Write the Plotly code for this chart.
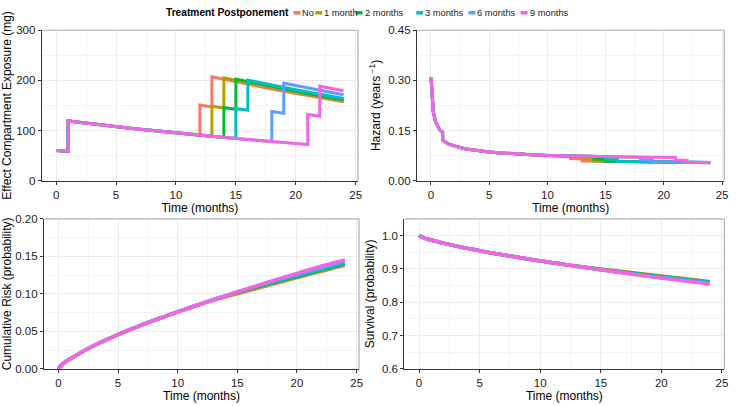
import plotly.graph_objects as go

# ---------------- data ----------------
CATEGORIES = ["No", "1 month", "2 months", "3 months", "6 months", "9 months"]
DOSE_MONTH = [12, 13, 14, 15, 18, 21]
COLORS = ["#F8766D", "#B79F00", "#00BA38", "#00BFC4", "#619CFF", "#F564E3"]

# Effect compartment exposure (mg): shared path before the postponed dose
expo_base_t = [0, 1, 1, 2, 3, 4, 5, 6, 7, 8, 9, 10, 11, 12, 13, 14, 15, 16, 17, 18, 19, 20, 21]
expo_base_v = [60, 59, 119, 116, 113, 110.5, 108, 105, 102.5, 100, 97.5, 95, 93, 91, 88.5, 86, 84,
               82, 80, 78, 76, 74, 72]
expo_no_t = [12, 13, 13, 14, 15, 16, 17, 18, 19, 20, 21, 22, 23, 24]
expo_no_v = [151, 147, 207, 202, 197, 192, 187.5, 183, 178.5, 174, 169.5, 165.5, 161.5, 157.5]
expo_1m_t = [13, 14, 14, 15, 16, 17, 18, 19, 20, 21, 22, 23, 24]
expo_1m_v = [148.5, 145, 205, 200, 195, 190, 185.5, 181, 176.5, 172, 167.5, 163.5, 159.5]
expo_2m_t = [14, 15, 15, 16, 17, 18, 19, 20, 21, 22, 23, 24]
expo_2m_v = [146, 142.5, 202.5, 197.5, 192.5, 187.5, 183, 178.5, 174, 169.5, 165.5, 161.5]
expo_3m_t = [15, 16, 16, 17, 18, 19, 20, 21, 22, 23, 24]
expo_3m_v = [144, 140.5, 200.5, 195.5, 190.5, 186, 181.5, 177, 172.5, 168, 164]
expo_6m_t = [18, 19, 19, 20, 21, 22, 23, 24]
expo_6m_v = [138, 134.5, 194.5, 189.5, 185, 180.5, 176, 171.5]
expo_9m_t = [21, 22, 22, 23, 24]
expo_9m_v = [132, 128.5, 188.5, 184, 179.5]

# Hazard (years^-1)
haz_base_t = [0, 0.12, 0.2, 0.4, 0.75, 1, 1, 1.5, 2, 3, 4, 5, 6, 7, 8, 9, 10, 11, 12, 13, 14, 15,
              16, 17, 18, 19, 20, 21]
haz_base_v = [0.31, 0.25, 0.205, 0.175, 0.152, 0.145, 0.121, 0.11, 0.104, 0.095, 0.09, 0.086, 0.083,
              0.0805, 0.0785, 0.077, 0.0755, 0.0745, 0.0735, 0.073, 0.0725, 0.072, 0.0715, 0.071,
              0.0705, 0.070, 0.0697, 0.0695]
haz_no_t = [12, 13, 13, 14, 15, 16, 17, 18, 19, 20, 21, 22, 23, 24]
haz_no_v = [0.066, 0.065, 0.059, 0.0582, 0.0575, 0.057, 0.0565, 0.056, 0.0556, 0.0552, 0.0548,
            0.0545, 0.0542, 0.054]
haz_1m_t = [13, 14, 14, 15, 16, 17, 18, 19, 20, 21, 22, 23, 24]
haz_1m_v = [0.0655, 0.0645, 0.0585, 0.0578, 0.0572, 0.0566, 0.0561, 0.0557, 0.0553, 0.0549, 0.0546,
            0.0543, 0.054]
haz_2m_t = [14, 15, 15, 16, 17, 18, 19, 20, 21, 22, 23, 24]
haz_2m_v = [0.065, 0.064, 0.058, 0.0574, 0.0568, 0.0563, 0.0558, 0.0554, 0.055, 0.0547, 0.0544,
            0.0541]
haz_3m_t = [15, 16, 16, 17, 18, 19, 20, 21, 22, 23, 24]
haz_3m_v = [0.0645, 0.0635, 0.0575, 0.057, 0.0565, 0.056, 0.0556, 0.0552, 0.0549, 0.0546, 0.0543]
haz_6m_t = [18, 19, 19, 20, 21, 22, 23, 24]
haz_6m_v = [0.063, 0.062, 0.0565, 0.056, 0.0556, 0.0552, 0.0549, 0.0546]
haz_9m_t = [21, 22, 22, 23, 24]
haz_9m_v = [0.0615, 0.0605, 0.0555, 0.055, 0.0546]

# Cumulative risk (probability)
risk_base_t = [0, 0.25, 0.5, 1, 2, 3, 4, 5, 6, 7, 8, 9, 10, 11, 12, 13, 14, 15, 16, 17, 18, 19, 20, 21]
risk_base_v = [0, 0.005, 0.0085, 0.0135, 0.023, 0.0312, 0.0387, 0.0457, 0.0523, 0.0586, 0.0646,
               0.0704, 0.076, 0.0815, 0.0869, 0.0922, 0.0974, 0.1025, 0.1076, 0.1126, 0.1176,
               0.1225, 0.1274, 0.1322]
risk_no_v = [0.0915, 0.0958, 0.1001, 0.1044, 0.1087, 0.113, 0.1172, 0.1214, 0.1256, 0.1298, 0.134, 0.1382]
risk_1m_v = [0.0968, 0.1011, 0.1054, 0.1097, 0.114, 0.1182, 0.1224, 0.1266, 0.1308, 0.135, 0.1392]
risk_2m_v = [0.102, 0.1063, 0.1106, 0.1149, 0.1191, 0.1233, 0.1275, 0.1317, 0.1359, 0.1401]
risk_3m_v = [0.1071, 0.1114, 0.1157, 0.1199, 0.1241, 0.1283, 0.1325, 0.1367, 0.1409]
risk_6m_v = [0.1222, 0.1265, 0.1307, 0.1349, 0.1391, 0.1433]
risk_9m_v = [0.1368, 0.1411, 0.1453]

# Survival (probability)
surv_base_v = [1, 0.995, 0.9915, 0.9865, 0.977, 0.9688, 0.9613, 0.9543, 0.9477, 0.9414, 0.9354,
               0.9296, 0.924, 0.9185, 0.9131, 0.9078, 0.9026, 0.8975, 0.8924, 0.8874, 0.8824,
               0.8775, 0.8726, 0.8678]
surv_no_v = [0.9085, 0.9042, 0.8999, 0.8956, 0.8913, 0.887, 0.8828, 0.8786, 0.8744, 0.8702, 0.866, 0.8618]
surv_1m_v = [0.9032, 0.8989, 0.8946, 0.8903, 0.886, 0.8818, 0.8776, 0.8734, 0.8692, 0.865, 0.8608]
surv_2m_v = [0.898, 0.8937, 0.8894, 0.8851, 0.8809, 0.8767, 0.8725, 0.8683, 0.8641, 0.8599]
surv_3m_v = [0.8929, 0.8886, 0.8843, 0.8801, 0.8759, 0.8717, 0.8675, 0.8633, 0.8591]
surv_6m_v = [0.8778, 0.8735, 0.8693, 0.8651, 0.8609, 0.8567]
surv_9m_v = [0.8632, 0.8589, 0.8547]

X_TICKS = [0, 5, 10, 15, 20, 25]
Y_TICKS_EXPO = [0, 100, 200, 300]
Y_TICKS_HAZ = [0.00, 0.15, 0.30, 0.45]
Y_TICKS_RISK = [0.00, 0.05, 0.10, 0.15, 0.20]
Y_TICKS_SURV = [0.6, 0.7, 0.8, 0.9, 1.0]

expo_tails = [(expo_no_t, expo_no_v), (expo_1m_t, expo_1m_v), (expo_2m_t, expo_2m_v),
              (expo_3m_t, expo_3m_v), (expo_6m_t, expo_6m_v), (expo_9m_t, expo_9m_v)]
haz_tails = [(haz_no_t, haz_no_v), (haz_1m_t, haz_1m_v), (haz_2m_t, haz_2m_v),
             (haz_3m_t, haz_3m_v), (haz_6m_t, haz_6m_v), (haz_9m_t, haz_9m_v)]
risk_tails = [risk_no_v, risk_1m_v, risk_2m_v, risk_3m_v, risk_6m_v, risk_9m_v]
surv_tails = [surv_no_v, surv_1m_v, surv_2m_v, surv_3m_v, surv_6m_v, surv_9m_v]


def join(base_t, base_v, tail_t, tail_v, d):
    pre = [(t, v) for t, v in zip(base_t, base_v) if t <= d]
    xs = [p[0] for p in pre] + list(tail_t)
    ys = [p[1] for p in pre] + list(tail_v)
    return xs, ys


FONT = "Liberation Sans, Arial, sans-serif"
fig = go.Figure()

for i, cat in enumerate(CATEGORIES):
    d = DOSE_MONTH[i]
    line = dict(color=COLORS[i], width=3)
    x, y = join(expo_base_t, expo_base_v, expo_tails[i][0], expo_tails[i][1], d)
    fig.add_trace(go.Scatter(x=x, y=y, mode="lines", line=line, name=cat, showlegend=False,
                             xaxis="x", yaxis="y"))
    x, y = join(haz_base_t, haz_base_v, haz_tails[i][0], haz_tails[i][1], d)
    fig.add_trace(go.Scatter(x=x, y=y, mode="lines", line=line, name=cat, showlegend=False,
                             xaxis="x2", yaxis="y2"))
    tail_t = list(range(d + 1, 25))
    x, y = join(risk_base_t, risk_base_v, tail_t, risk_tails[i], d)
    fig.add_trace(go.Scatter(x=x, y=y, mode="lines", line=dict(color=COLORS[i], width=3.5,
                             shape="spline", smoothing=0.6), name=cat, showlegend=False,
                             xaxis="x3", yaxis="y3"))
    x, y = join(risk_base_t, surv_base_v, tail_t, surv_tails[i], d)
    fig.add_trace(go.Scatter(x=x, y=y, mode="lines", line=dict(color=COLORS[i], width=3.5,
                             shape="spline", smoothing=0.6), name=cat, showlegend=False,
                             xaxis="x4", yaxis="y4"))

W, H = 738, 406


def px_x(p):
    return p / W


def px_y(p):
    return 1 - p / H


panels = {
    "1": dict(x=[px_x(42), px_x(360)], y=[px_y(180), px_y(25)]),
    "2": dict(x=[px_x(419.3), px_x(728.3)], y=[px_y(180), px_y(25)]),
    "3": dict(x=[px_x(44.3), px_x(361)], y=[px_y(374), px_y(219.3)]),
    "4": dict(x=[px_x(406.7), px_x(728.3)], y=[px_y(374), px_y(219.3)]),
}
ycfg = {
    "1": dict(range=[0, 300], tickvals=Y_TICKS_EXPO, ticktext=[str(v) for v in Y_TICKS_EXPO],
              title="Effect Compartment Exposure (mg)", minor=50),
    "2": dict(range=[0, 0.45], tickvals=Y_TICKS_HAZ, ticktext=[f"{v:.2f}" for v in Y_TICKS_HAZ],
              title="Hazard (years<sup> −1</sup>)", minor=0.075),
    "3": dict(range=[0, 0.2], tickvals=Y_TICKS_RISK, ticktext=[f"{v:.2f}" for v in Y_TICKS_RISK],
              title="Cumulative Risk (probability)", minor=0.025),
    "4": dict(range=[0.6, 1.05], tickvals=Y_TICKS_SURV, ticktext=[f"{v:.1f}" for v in Y_TICKS_SURV],
              title="Survival (probability)", minor=0.05),
}

tickfont = dict(family=FONT, size=11.5, color="#1A1A1A")
titlefont = dict(family=FONT, size=12, color="#000000")
layout = dict(width=W, height=H, margin=dict(l=0, r=0, t=0, b=0),
              paper_bgcolor="white", plot_bgcolor="white", showlegend=False,
              font=dict(family=FONT))
shapes = []
for k, p in panels.items():
    xa = "xaxis" if k == "1" else f"xaxis{k}"
    ya = "yaxis" if k == "1" else f"yaxis{k}"
    anchor_x = "y" if k == "1" else f"y{k}"
    anchor_y = "x" if k == "1" else f"x{k}"
    layout[xa] = dict(domain=p["x"], anchor=anchor_x, range=[-1.2, 25.2], tickvals=X_TICKS,
                      ticks="outside", ticklen=3, tickcolor="#333333", tickwidth=1,
                      showline=True, linecolor="#333333", linewidth=1.3, zeroline=False,
                      showgrid=True, gridcolor="#EBEBEB", gridwidth=1,
                      minor=dict(dtick=2.5, tick0=0, showgrid=True, gridcolor="#F4F4F4", gridwidth=1),
                      tickfont=tickfont, title=dict(text="Time (months)", font=titlefont, standoff=1))
    c = ycfg[k]
    layout[ya] = dict(domain=p["y"], anchor=anchor_y, range=c["range"], tickvals=c["tickvals"],
                      ticktext=c["ticktext"], ticks="outside", ticklen=3, tickcolor="#333333",
                      tickwidth=1, showline=True, linecolor="#333333", linewidth=1.3,
                      zeroline=False, showgrid=True, gridcolor="#EBEBEB", gridwidth=1,
                      minor=dict(dtick=c["minor"], tick0=0, showgrid=True, gridcolor="#F4F4F4",
                                 gridwidth=1),
                      tickfont=tickfont, title=dict(text=c["title"], font=titlefont, standoff=4))
    # top and right border of panel
    shapes.append(dict(type="line", xref="paper", yref="paper", x0=p["x"][0], x1=p["x"][1],
                       y0=p["y"][1], y1=p["y"][1], line=dict(color="#B0B0B0", width=1.2)))
    shapes.append(dict(type="line", xref="paper", yref="paper", x0=p["x"][1], x1=p["x"][1],
                       y0=p["y"][0], y1=p["y"][1], line=dict(color="#B0B0B0", width=1.2)))

# legend drawn as annotations + swatches
annotations = [dict(text="<b>Treatment Postponement</b>", x=px_x(165.5), y=px_y(7), xref="paper",
                    yref="paper", xanchor="left", yanchor="middle", showarrow=False, borderpad=0,
                    font=dict(family=FONT, size=10.2, color="#000000"))]
text_left = [305, 327, 367.5, 428.5, 481, 533.5]
for i, cat in enumerate(CATEGORIES):
    tx = text_left[i]
    shapes.append(dict(type="line", xref="paper", yref="paper", x0=px_x(tx - 10), x1=px_x(tx - 3),
                       y0=px_y(7), y1=px_y(7), line=dict(color=COLORS[i], width=3.5)))
    annotations.append(dict(text=cat, x=px_x(tx - 2), y=px_y(7), xref="paper", yref="paper",
                            xanchor="left", yanchor="middle", showarrow=False, borderpad=0,
                            font=dict(family=FONT, size=9.3, color="#1A1A1A")))

layout["shapes"] = shapes
layout["annotations"] = annotations
fig.update_layout(**layout)
fig.write_html("out.html", config={"displayModeBar": False},
               post_script="document.body.style.margin='0';")
